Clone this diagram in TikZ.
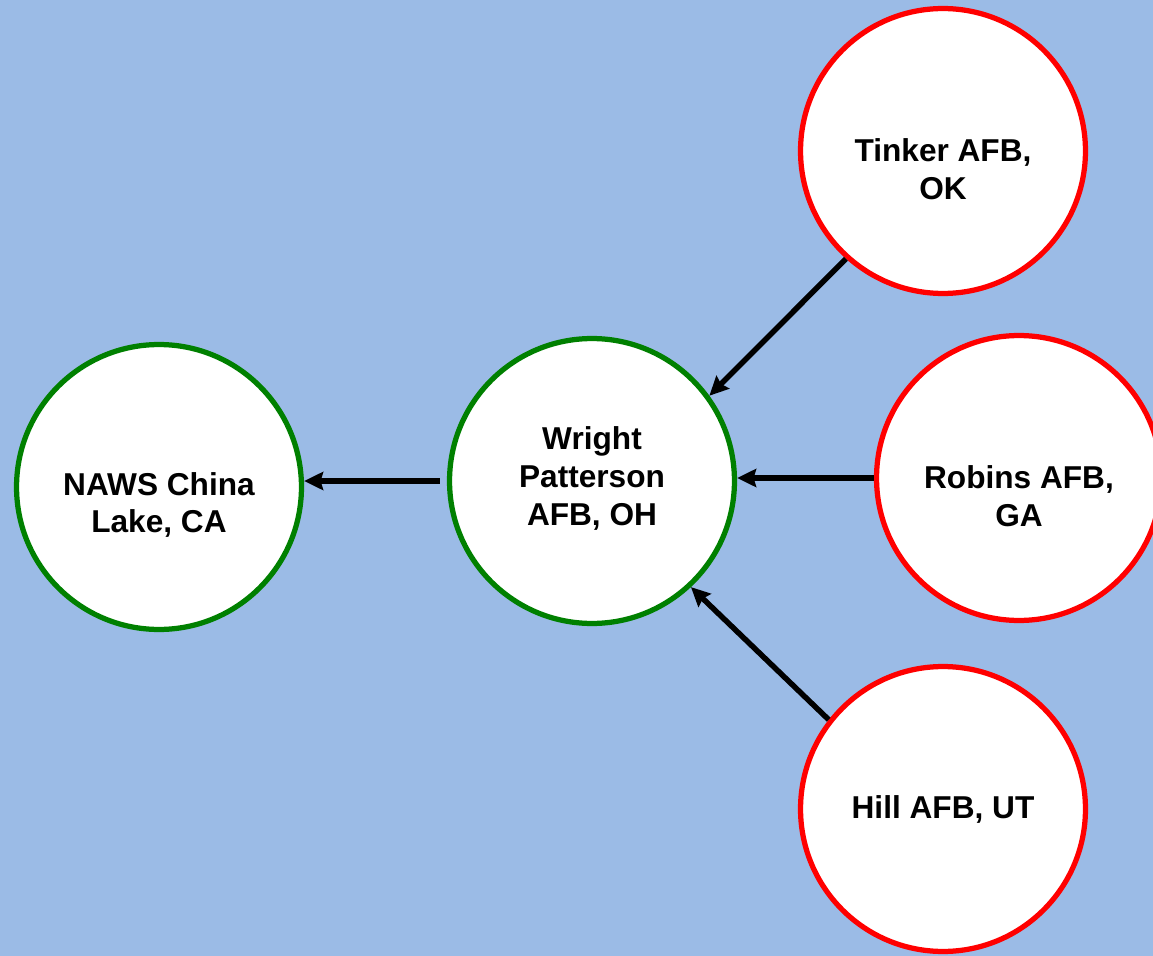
\documentclass[tikz,border=0pt]{standalone}
\usepackage{fontspec}
\setmainfont{Liberation Sans}
\usetikzlibrary{arrows.meta}
\usetikzlibrary{positioning}
\definecolor{slideblue}{HTML}{9BBBE6}
\definecolor{depotgreen}{RGB}{0,128,0}
\definecolor{depotred}{RGB}{255,0,0}

\begin{document}
\begin{tikzpicture}[x=0.02cm, y=-0.02cm,
    site/.style={draw, circle, fill=white, line width=0.105cm, minimum size=5.7cm, inner sep=0pt},
    sitename/.style={font=\fontsize{18}{21.5}\selectfont\bfseries, align=center},
    flow/.style={-{Stealth[length=0.38cm, width=0.36cm, inset=0.05cm]}, line width=0.11cm}]
            \useasboundingbox (0,0) rectangle (1153,956);
            \fill[slideblue] (0,0) rectangle (1153,956);
            \clip (0,0) rectangle (1153,956);

            \node[site, draw=depotgreen] (naws) at (159,487) {};
            \node[site, draw=depotgreen] (wright) at (592,481) {};
            \node[site, draw=depotred] (tinker) at (943,151) {};
            \node[site, draw=depotred] (robins) at (1019,478) {};
            \node[site, draw=depotred] (hill) at (943,809) {};

            \node[sitename, yshift=-0.36cm] (nawsname) at (naws) {NAWS China\\Lake, CA};
            \node[sitename, yshift=0.05cm] (wrightname) at (wright) {Wright\\Patterson\\AFB, OH};
            \node[sitename, yshift=-0.36cm] (tinkername) at (tinker) {Tinker AFB,\\OK};
            \node[sitename, yshift=-0.36cm] (robinsname) at (robins) {Robins AFB,\\GA};
            \node[sitename] (hillname) at (hill) {Hill AFB, UT};

            \draw[flow, shorten <=0.14cm] (wright.west) -- (wright.west -| naws.east);
            \draw[flow] (tinker.228) -- (wright.36);
            \draw[flow] (robins.west) -- (robins.west -| wright.east);
            \draw[flow] (hill.142) -- (wright.313);
        \end{tikzpicture}
\end{document}
